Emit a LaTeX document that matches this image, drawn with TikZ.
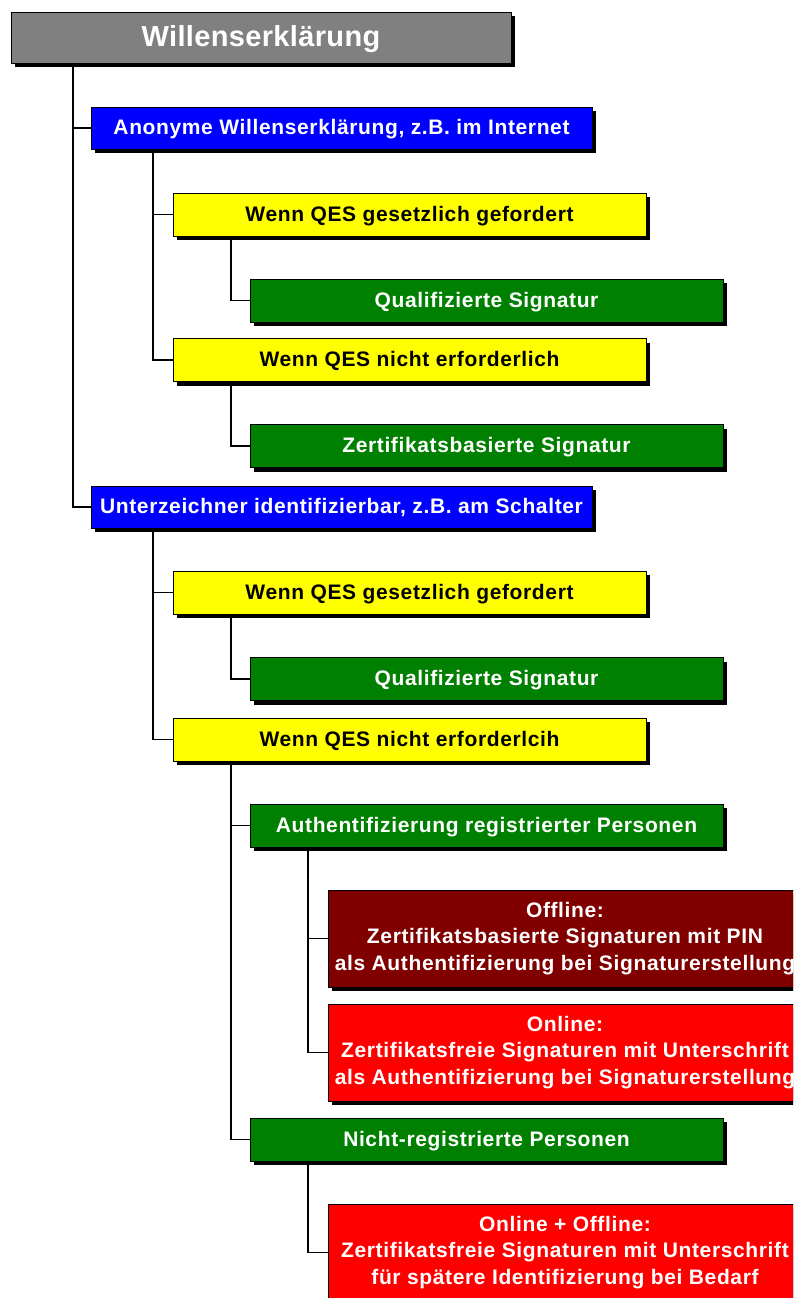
\documentclass[tikz,border=0pt]{standalone}
\usepackage{fontspec}
\setmainfont{Liberation Sans}
\newfontfamily\boxfont[LetterSpace=3]{Liberation Sans}
\newfontfamily\titlefont[LetterSpace=1.2]{Liberation Sans}
\usetikzlibrary{shadows}
\definecolor{topgray}{RGB}{128,128,128}
\definecolor{bblue}{RGB}{0,0,255}
\definecolor{byellow}{RGB}{255,255,0}
\definecolor{bgreen}{RGB}{0,128,0}
\definecolor{bdred}{RGB}{128,0,0}
\definecolor{bred}{RGB}{255,0,0}
\tikzset{
  box/.style={draw=black, line width=0.8pt, rectangle, inner sep=0pt,
    align=center, font=\boxfont\fontsize{21}{26.5}\selectfont\bfseries,
    drop shadow={shadow xshift=4pt, shadow yshift=-4pt, fill=black, opacity=1}},
  oneline/.style={text height=15pt, text depth=2pt},
  wide/.style={oneline, minimum width=501pt, minimum height=42pt},
  mid/.style={oneline, minimum width=473pt, minimum height=43pt},
  big/.style={minimum width=474pt, minimum height=97pt},
  conn/.style={draw=black, line width=1.3pt},
}
\begin{document}
\begin{tikzpicture}[x=1pt,y=-1pt]
\path[use as bounding box] (0,0) rectangle (793,1298);
\clip (0,0) rectangle (793,1298);
\coordinate (t0) at (73,63);
\coordinate (b1x) at (153,149);
\coordinate (y1x) at (231,236);
\coordinate (y2x) at (231,381);
\coordinate (b2x) at (153,528);
\coordinate (y3x) at (231,614);
\coordinate (y4x) at (231,761);
\coordinate (g4x) at (308,847);
\coordinate (g5x) at (308,1161);
\node[box, fill=topgray, text=white, minimum width=500pt, minimum height=51pt,
  text height=21pt, text depth=3pt,
  font=\titlefont\fontsize{29}{34}\selectfont\bfseries] (top) at (261,37.5) {Willenserklärung};
\node[box, wide, fill=bblue, text=white] (b1) at (341.5,128) {Anonyme Willenserklärung, z.B. im Internet};
\node[box, mid, fill=byellow, text=black] (y1) at (409.5,214.5) {Wenn QES gesetzlich gefordert};
\node[box, mid, fill=bgreen, text=white] (g1) at (486.5,300.5) {Qualifizierte Signatur};
\node[box, mid, fill=byellow, text=black] (y2) at (409.5,360) {Wenn QES nicht erforderlich};
\node[box, mid, fill=bgreen, text=white] (g2) at (486.5,446) {Zertifikatsbasierte Signatur};
\node[box, wide, fill=bblue, text=white] (b2) at (341.5,507) {Unterzeichner identifizierbar, z.B. am Schalter};
\node[box, mid, fill=byellow, text=black] (y3) at (409.5,592.5) {Wenn QES gesetzlich gefordert};
\node[box, mid, fill=bgreen, text=white] (g3) at (486.5,679) {Qualifizierte Signatur};
\node[box, mid, fill=byellow, text=black] (y4) at (409.5,739.5) {Wenn QES nicht erforderlcih};
\node[box, mid, fill=bgreen, text=white] (g4) at (486.5,825.5) {Authentifizierung registrierter Personen};
\node[box, big, fill=bdred, text=white] (r1) at (565,938.5) {Offline:\\Zertifikatsbasierte Signaturen mit PIN\\als Authentifizierung bei Signaturerstellung};
\node[box, big, fill=bred, text=white] (r2) at (565,1052.5) {Online:\\Zertifikatsfreie Signaturen mit Unterschrift\\als Authentifizierung bei Signaturerstellung};
\node[box, mid, fill=bgreen, text=white] (g5) at (486.5,1139.5) {Nicht-registrierte Personen};
\node[box, big, fill=bred, text=white] (r3) at (565,1252.5) {Online + Offline:\\Zertifikatsfreie Signaturen mit Unterschrift\\für spätere Identifizierung bei Bedarf};
\draw[conn] (t0) |- (b1.west);
\draw[conn] (t0) |- (b2.west);
\draw[conn] (b1x) |- (y1.west);
\draw[conn] (b1x) |- (y2.west);
\draw[conn] (y1x) |- (g1.west);
\draw[conn] (y2x) |- (g2.west);
\draw[conn] (b2x) |- (y3.west);
\draw[conn] (b2x) |- (y4.west);
\draw[conn] (y3x) |- (g3.west);
\draw[conn] (y4x) |- (g4.west);
\draw[conn] (y4x) |- (g5.west);
\draw[conn] (g4x) |- (r1.west);
\draw[conn] (g4x) |- (r2.west);
\draw[conn] (g5x) |- (r3.west);
\end{tikzpicture}
\end{document}
